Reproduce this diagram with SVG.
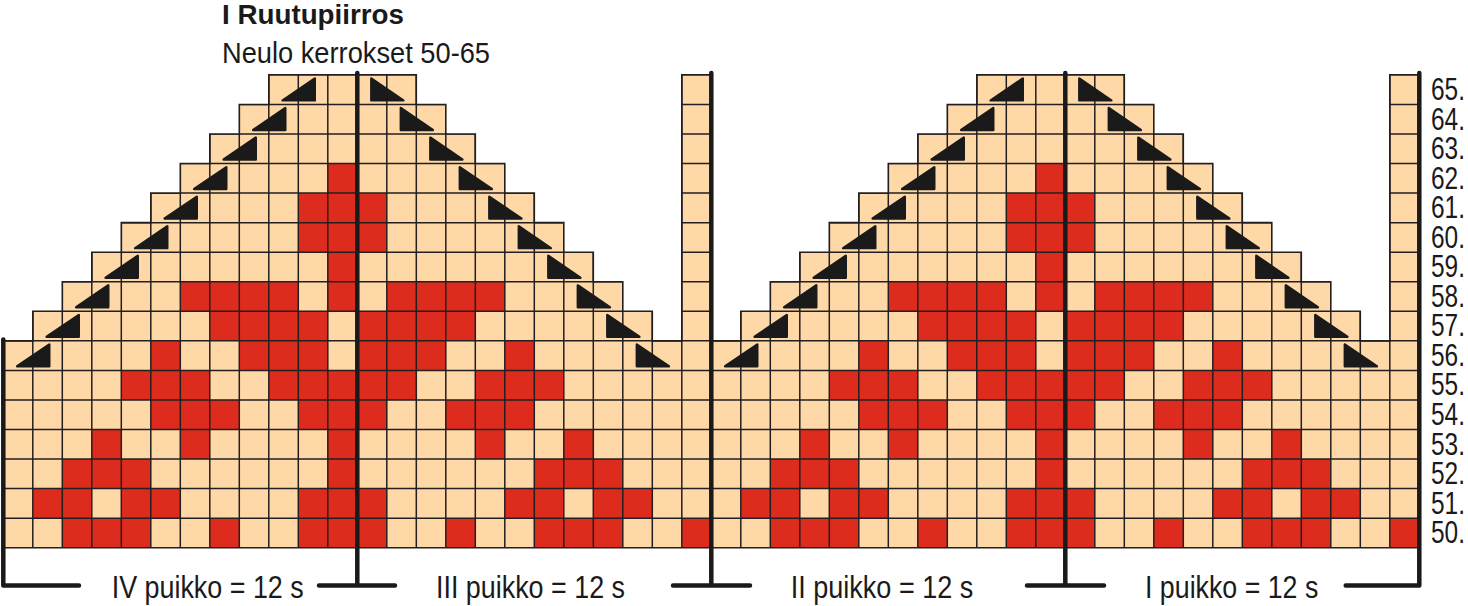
<svg xmlns="http://www.w3.org/2000/svg" xmlns:xlink="http://www.w3.org/1999/xlink" width="1468" height="606" viewBox="0 0 1468 606">
<style>
.bg{fill:#FED8A7}
.rd{fill:#DD2B1D}
.gl{fill:none;stroke:#231F20;stroke-width:1.5}
.ol{fill:none;stroke:#231F20;stroke-width:1.6}
.tri{fill:#1A1A1A;stroke:#1A1A1A;stroke-width:2.4;stroke-linejoin:round}
.div{fill:none;stroke:#1A1A1A;stroke-width:4.5;stroke-linecap:round;stroke-linejoin:round}
text{font-family:"Liberation Sans",Arial,sans-serif;fill:#1A1A1A}
.t{font-weight:bold;font-size:28px}
.s{font-size:30px}
.n{font-size:31px}
.p{font-size:32px}
</style>
<defs>
<path id="shape" d="M0,472.8 V265.95 H29.5 V236.4 H59 V206.85 H88.5 V177.3 H118 V147.75 H147.5 V118.2 H177 V88.65 H206.5 V59.1 H236 V29.55 H265.5 V0 H413 V29.55 H442.5 V59.1 H472 V88.65 H501.5 V118.2 H531 V147.75 H560.5 V177.3 H590 V206.85 H619.5 V236.4 H649 V265.95 H678.5 V0 H708 V472.8 Z"/>
<clipPath id="clip"><use xlink:href="#shape" href="#shape"/></clipPath>
<path id="tL" d="M1.2,23.1 L33.4,1.2 V23.1 Z"/>
<path id="tR" d="M1.2,1.2 L33.3,23.1 H1.2 Z"/>
<g id="motif">
<use xlink:href="#shape" href="#shape" class="bg"/>
<g class="rd">
<rect x="324.5" y="88.65" width="29.5" height="29.55"/>
<rect x="295" y="118.2" width="88.5" height="29.55"/>
<rect x="295" y="147.75" width="88.5" height="29.55"/>
<rect x="324.5" y="177.3" width="29.5" height="29.55"/>
<rect x="177" y="206.85" width="118" height="29.55"/>
<rect x="324.5" y="206.85" width="29.5" height="29.55"/>
<rect x="383.5" y="206.85" width="118" height="29.55"/>
<rect x="206.5" y="236.4" width="118" height="29.55"/>
<rect x="354" y="236.4" width="118" height="29.55"/>
<rect x="147.5" y="265.95" width="29.5" height="29.55"/>
<rect x="236" y="265.95" width="88.5" height="29.55"/>
<rect x="354" y="265.95" width="88.5" height="29.55"/>
<rect x="501.5" y="265.95" width="29.5" height="29.55"/>
<rect x="118" y="295.5" width="88.5" height="29.55"/>
<rect x="265.5" y="295.5" width="147.5" height="29.55"/>
<rect x="472" y="295.5" width="88.5" height="29.55"/>
<rect x="147.5" y="325.05" width="88.5" height="29.55"/>
<rect x="295" y="325.05" width="88.5" height="29.55"/>
<rect x="442.5" y="325.05" width="88.5" height="29.55"/>
<rect x="88.5" y="354.6" width="29.5" height="29.55"/>
<rect x="177" y="354.6" width="29.5" height="29.55"/>
<rect x="324.5" y="354.6" width="29.5" height="29.55"/>
<rect x="472" y="354.6" width="29.5" height="29.55"/>
<rect x="560.5" y="354.6" width="29.5" height="29.55"/>
<rect x="59" y="384.15" width="88.5" height="29.55"/>
<rect x="324.5" y="384.15" width="29.5" height="29.55"/>
<rect x="531" y="384.15" width="88.5" height="29.55"/>
<rect x="29.5" y="413.7" width="59" height="29.55"/>
<rect x="118" y="413.7" width="59" height="29.55"/>
<rect x="295" y="413.7" width="88.5" height="29.55"/>
<rect x="501.5" y="413.7" width="59" height="29.55"/>
<rect x="590" y="413.7" width="59" height="29.55"/>
<rect x="59" y="443.25" width="88.5" height="29.55"/>
<rect x="206.5" y="443.25" width="29.5" height="29.55"/>
<rect x="295" y="443.25" width="88.5" height="29.55"/>
<rect x="442.5" y="443.25" width="29.5" height="29.55"/>
<rect x="531" y="443.25" width="88.5" height="29.55"/>
<rect x="678.5" y="443.25" width="29.5" height="29.55"/>
</g>
<path class="gl" clip-path="url(#clip)" d="M29.5,0V472.8M59,0V472.8M88.5,0V472.8M118,0V472.8M147.5,0V472.8M177,0V472.8M206.5,0V472.8M236,0V472.8M265.5,0V472.8M295,0V472.8M324.5,0V472.8M354,0V472.8M383.5,0V472.8M413,0V472.8M442.5,0V472.8M472,0V472.8M501.5,0V472.8M531,0V472.8M560.5,0V472.8M590,0V472.8M619.5,0V472.8M649,0V472.8M678.5,0V472.8M0,29.55H708M0,59.1H708M0,88.65H708M0,118.2H708M0,147.75H708M0,177.3H708M0,206.85H708M0,236.4H708M0,265.95H708M0,295.5H708M0,325.05H708M0,354.6H708M0,384.15H708M0,413.7H708M0,443.25H708"/>
<use xlink:href="#shape" href="#shape" class="ol"/>
<g class="tri">
<use href="#tL" x="278.1" y="2.4"/>
<use href="#tL" x="248.6" y="31.95"/>
<use href="#tL" x="219.1" y="61.5"/>
<use href="#tL" x="189.6" y="91.05"/>
<use href="#tL" x="160.1" y="120.6"/>
<use href="#tL" x="130.6" y="150.15"/>
<use href="#tL" x="101.1" y="179.7"/>
<use href="#tL" x="71.6" y="209.25"/>
<use href="#tL" x="42.1" y="238.8"/>
<use href="#tL" x="12.6" y="268.35"/>
<use href="#tR" x="366.8" y="2.4"/>
<use href="#tR" x="396.3" y="31.95"/>
<use href="#tR" x="425.8" y="61.5"/>
<use href="#tR" x="455.3" y="91.05"/>
<use href="#tR" x="484.8" y="120.6"/>
<use href="#tR" x="514.3" y="150.15"/>
<use href="#tR" x="543.8" y="179.7"/>
<use href="#tR" x="573.3" y="209.25"/>
<use href="#tR" x="602.8" y="238.8"/>
<use href="#tR" x="632.3" y="268.35"/>
</g>
</g>
</defs>
<g id="chart-IV-III" transform="translate(3.3,74.9)"><use href="#motif"/></g>
<g id="chart-II-I" transform="translate(711.3,74.9)"><use href="#motif"/></g>
<g id="dividers" class="div">
<path d="M3.3,339.5 V585.5 H79"/>
<path d="M357.3,73 V585.5 M319,585.5 H395"/>
<path d="M711.3,73 V585.5 M673,585.5 H750"/>
<path d="M1065.3,73 V585.5 M1027,585.5 H1104"/>
<path d="M1419.3,73 V585.5 H1345.7"/>
</g>
<g id="title">
<text class="t" x="222" y="24" textLength="182" lengthAdjust="spacingAndGlyphs">I Ruutupiirros</text>
<text class="s" x="222" y="63" textLength="268" lengthAdjust="spacingAndGlyphs">Neulo kerrokset 50-65</text>
</g>
<g id="row-labels" class="n">
<text x="1431" y="100" textLength="34" lengthAdjust="spacingAndGlyphs">65.</text>
<text x="1431" y="129.5" textLength="34" lengthAdjust="spacingAndGlyphs">64.</text>
<text x="1431" y="159" textLength="34" lengthAdjust="spacingAndGlyphs">63.</text>
<text x="1431" y="188.6" textLength="34" lengthAdjust="spacingAndGlyphs">62.</text>
<text x="1431" y="218.2" textLength="34" lengthAdjust="spacingAndGlyphs">61.</text>
<text x="1431" y="247.7" textLength="34" lengthAdjust="spacingAndGlyphs">60.</text>
<text x="1431" y="277.2" textLength="34" lengthAdjust="spacingAndGlyphs">59.</text>
<text x="1431" y="306.8" textLength="34" lengthAdjust="spacingAndGlyphs">58.</text>
<text x="1431" y="336.4" textLength="34" lengthAdjust="spacingAndGlyphs">57.</text>
<text x="1431" y="365.9" textLength="34" lengthAdjust="spacingAndGlyphs">56.</text>
<text x="1431" y="395.4" textLength="34" lengthAdjust="spacingAndGlyphs">55.</text>
<text x="1431" y="425" textLength="34" lengthAdjust="spacingAndGlyphs">54.</text>
<text x="1431" y="454.5" textLength="34" lengthAdjust="spacingAndGlyphs">53.</text>
<text x="1431" y="484.1" textLength="34" lengthAdjust="spacingAndGlyphs">52.</text>
<text x="1431" y="513.6" textLength="34" lengthAdjust="spacingAndGlyphs">51.</text>
<text x="1431" y="543.2" textLength="34" lengthAdjust="spacingAndGlyphs">50.</text>
</g>
<g id="needle-labels" class="p">
<text x="111.7" y="598" textLength="192" lengthAdjust="spacingAndGlyphs">IV puikko = 12 s</text>
<text x="436" y="598" textLength="189" lengthAdjust="spacingAndGlyphs">III puikko = 12 s</text>
<text x="790.7" y="598" textLength="182.6" lengthAdjust="spacingAndGlyphs">II puikko = 12 s</text>
<text x="1145" y="598" textLength="173.3" lengthAdjust="spacingAndGlyphs">I puikko = 12 s</text>
</g>
</svg>
